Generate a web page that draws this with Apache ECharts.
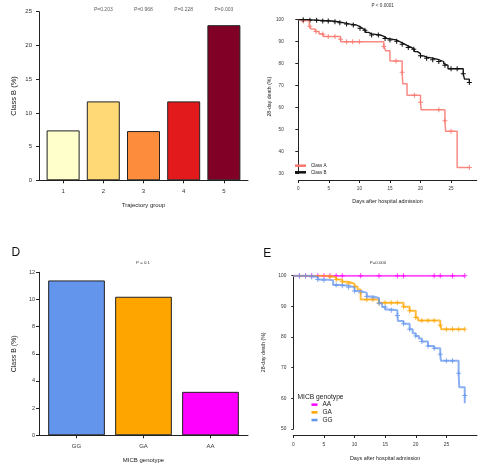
<!DOCTYPE html>
<html>
<head>
<meta charset="utf-8">
<script src="https://cdn.jsdelivr.net/npm/echarts@6/dist/echarts.min.js"></script>
<style>
  html, body { margin: 0; padding: 0; background: #fff; }
  #chart { width: 500px; height: 472px; }
</style>
</head>
<body>
<div id="chart"></div>
<script>
// panel A: class B share by trajectory group
var trajGroups = [1, 2, 3, 4, 5];
var trajClassB = [7.4, 11.7, 7.3, 11.7, 23.0];
var trajP = ['', 'P=0.203', 'P=0.968', 'P=0.228', 'P=0.003'];
var trajColors = ['#FFFFCC', '#FED976', '#FD8D3C', '#E31A1C', '#800026'];

// panel D: class B share by MICB genotype
var genotypes = ['GG', 'GA', 'AA'];
var genoClassB = [11.4, 10.2, 3.2];
var genoColors = ['#6495ED', '#FFA500', '#FF00FF'];

// panel B: survival by class  [day, %]
var classASteps = [[0,100],[0.8,99.4],[1.8,97.0],[2.1,95.8],[2.8,94.6],[3.4,93.5],[4.1,92.4],[6.9,91.1],[7,90.0],[14,87.8],[14.3,85.9],[15,81.2],[17,76.1],[17.1,70.9],[17.8,65.7],[20,62.5],[20.1,59.1],[24,54.1],[24.1,49.3],[26,32.8],[28,32.8]];
var classACens = [[0.8,99.4],[1.9,97.0],[2.9,94.6],[4,93.5],[4.9,92.4],[6,92.4],[6.9,91.1],[7.9,90],[8.9,90],[10,90],[14,87.8],[16,81.2],[17,76.1],[19,65.7],[20,62.5],[23,59.1],[24,54.1],[25,49.3],[28,32.8]];
var classBSteps = [[0,100],[1.5,99.7],[3.5,99.4],[5.5,99.1],[6.5,98.6],[7.5,98.0],[8.5,97.6],[9.5,97.0],[10,96.1],[10.5,95.2],[11,94.2],[11.5,93.6],[12,93.0],[13.5,92.4],[14,91.5],[14.5,90.8],[16,90.2],[16.5,89.5],[17,88.8],[17.5,88.0],[18,87.4],[18.5,86.6],[19,85.5],[19.5,84.6],[20,83.6],[20.5,83.0],[21,82.5],[22,81.8],[23,81.0],[23.8,80.0],[24,79.3],[24.5,77.7],[27,75.4],[27.2,73.0],[28,71.5]];
var classBCens = [[0.8,100],[1.9,99.7],[3,99.7],[4,99.4],[4.9,99.4],[6,99.1],[6.8,98.6],[7.9,98.0],[9,97.6],[10.1,96.1],[10.9,95.2],[12,93.0],[13.1,93.0],[14.2,91.5],[15,90.8],[16.1,90.2],[17,88.8],[18,87.4],[18.9,86.6],[20,83.6],[21,82.5],[22,81.8],[23,81.0],[24,79.3],[25,77.7],[26,77.7],[27,75.4],[28,71.5]];

// panel E: survival by genotype  [day, %]
var aaSteps = [[0,100],[28,100]];
var aaCens = [[1,100],[2,100],[3,100],[4,100],[5,100],[6,100],[7,100],[8,100],[11,100],[14,100],[17,100],[18,100],[23,100],[24,100],[26,100],[28,100]];
var gaSteps = [[0,100],[6,99.5],[7,98.8],[8,98.0],[9,97.4],[10,96.5],[10.5,95.5],[11,92.2],[14,91.2],[18,89.9],[19,88.6],[20,86.4],[20.4,85.4],[24,83.8],[24.2,82.5],[28,82.5]];
var gaCens = [[6,99.5],[7,98.8],[8,98.0],[9,97.4],[10,96.5],[12,92.2],[13,92.2],[14,91.2],[15,91.2],[16,91.2],[17,91.2],[18,89.9],[19,88.6],[20,86.4],[21,85.4],[22,85.4],[23,85.4],[24,83.8],[25,82.5],[26,82.5],[27,82.5],[28,82.5]];
var ggSteps = [[0,100],[3,99.6],[4,98.8],[5,98.5],[6.5,97.0],[8,96.7],[9,96.2],[10,95.0],[11,94.4],[12,93.2],[13,92.7],[14,91.0],[14.5,89.8],[15,89.0],[16,88.7],[17,87.0],[17.1,85.2],[18,84.3],[19,82.5],[19.5,81.2],[20,80.3],[20.5,79.5],[21,78.5],[22,77.1],[23,76.3],[24,74.4],[24.1,72.3],[27,68.2],[27.1,63.6],[28,60.9],[28,58.4]];
var ggCens = [[1,100],[2,100],[3,99.6],[4,98.8],[5,98.5],[7,97.0],[8,96.7],[9,96.2],[10,95.0],[11,94.4],[12,93.2],[13,92.7],[14,91.0],[15,89.8],[16,88.7],[17,87.0],[18,84.3],[19,82.5],[20,80.3],[21,78.5],[22,77.1],[23,76.3],[24,74.4],[25,72.3],[26,72.3],[27,68.2],[28,60.9]];

var dayTicks = [0, 5, 10, 15, 20, 25];

var FONT = 'Liberation Sans, Arial, sans-serif';
var AX = '#222', LBL = '#333';
var PLUS = 'path://M4,0h2v4h4v2h-4v4h-2v-4h-4v-2h4z';

function yAx(idx, min, max, step, name, opt) {
    return Object.assign({
        type: 'value', gridIndex: idx, min: min, max: max, interval: step,
        name: name, nameLocation: 'middle', nameGap: opt.gap,
        nameTextStyle: { fontSize: opt.nameSize, color: AX, fontFamily: FONT },
        axisLine: { show: true, lineStyle: { color: AX, width: 1 } },
        axisTick: { show: true, length: opt.tick, lineStyle: { color: AX } },
        axisLabel: { fontSize: opt.size, color: LBL, margin: opt.margin, fontFamily: FONT },
        splitLine: { show: false }
    }, opt.extra || {});
}

function xAx(idx, min, max, ticks, name, opt) {
    return Object.assign({
        type: 'value', gridIndex: idx, min: min, max: max,
        name: name, nameLocation: 'middle', nameGap: opt.gap,
        nameTextStyle: { fontSize: opt.nameSize, color: AX, fontFamily: FONT },
        axisLine: { show: true, lineStyle: { color: AX, width: 1 } },
        axisTick: { show: true, length: 3, customValues: ticks, lineStyle: { color: AX } },
        axisLabel: { fontSize: opt.size, color: LBL, margin: opt.margin, fontFamily: FONT,
            customValues: ticks, formatter: opt.fmt },
        splitLine: { show: false }
    }, opt.extra || {});
}

function stepLine(name, idx, data, color, width, alpha) {
    return { type: 'line', name: name, xAxisIndex: idx, yAxisIndex: idx, data: data,
        step: 'end', showSymbol: false, symbol: 'none', silent: true,
        itemStyle: { color: color },
        lineStyle: { color: color, width: width, opacity: alpha } };
}

function marks(idx, data, color, alpha) {
    return { type: 'scatter', xAxisIndex: idx, yAxisIndex: idx, data: data,
        symbol: PLUS, symbolSize: 5, silent: true,
        itemStyle: { color: color, opacity: alpha } };
}

var chart = echarts.init(document.getElementById('chart'));

var option = {
    backgroundColor: '#fff',
    animation: false,
    textStyle: { fontFamily: FONT },
    grid: [
        { left: 39, top: 11.7, width: 209, height: 168.6 },
        { left: 298.3, top: 19.7, width: 178.4, height: 154 },
        { left: 39, top: 272.3, width: 209, height: 163 },
        { left: 293.3, top: 275.7, width: 183.7, height: 153.3 }
    ],
    xAxis: [
        xAx(0, 0.4, 5.6, trajGroups, 'Trajectory group', { gap: 22, nameSize: 6, size: 6, margin: 8 }),
        xAx(1, 0, 29.2, dayTicks, 'Days after hospital admission', { gap: 19, nameSize: 5.4, size: 4.6, margin: 6.5,
            extra: { offset: 6.3 } }),
        xAx(2, 0.44, 3.56, [1, 2, 3], 'MICB genotype', { gap: 22, nameSize: 6, size: 6, margin: 8,
            fmt: function (v) { return genotypes[Math.round(v) - 1]; } }),
        xAx(3, 0, 30, dayTicks, 'Days after hospital admission', { gap: 21, nameSize: 5.4, size: 4.8, margin: 7,
            extra: { offset: 6 } })
    ],
    yAxis: [
        yAx(0, 0, 25, 5, 'Class B (%)', { gap: 21, nameSize: 7.5, size: 6, margin: 7, tick: 3 }),
        yAx(1, 30, 100, 10, '28-day death (%)', { gap: 18, nameSize: 5.2, size: 4.6, margin: 7, tick: 3,
            extra: { offset: 7.6 } }),
        yAx(2, 0, 12, 2, 'Class B (%)', { gap: 21.5, nameSize: 7, size: 5.5, margin: 4, tick: 3 }),
        yAx(3, 50, 100, 10, '28-day death (%)', { gap: 23, nameSize: 5.2, size: 4.8, margin: 3, tick: 2,
            extra: { offset: 4 } })
    ],
    legend: [
        { data: ['Class A', 'Class B'], orient: 'vertical', left: 295, top: 162.4, padding: 0,
          itemGap: 0, itemWidth: 11, itemHeight: 2.5, icon: 'rect', selectedMode: false,
          textStyle: { fontSize: 4.5, lineHeight: 6.6, color: AX, fontFamily: FONT } },
        { data: ['AA', 'GA', 'GG'], orient: 'vertical', left: 311.5, top: 400.8, padding: 0,
          itemGap: 0, itemWidth: 6, itemHeight: 2.5, icon: 'rect', selectedMode: false,
          textStyle: { fontSize: 6.5, lineHeight: 7.7, color: AX, fontFamily: FONT } }
    ],
    graphic: [
        { type: 'text', x: 382.7, y: 5.7, style: { text: 'P < 0.0001', fontSize: 4.6, fill: LBL, fontFamily: FONT, align: 'center', verticalAlign: 'middle' } },
        { type: 'text', x: 11.5, y: 253, style: { text: 'D', fontSize: 12, fill: '#111', fontFamily: FONT, align: 'left', verticalAlign: 'middle' } },
        { type: 'text', x: 143, y: 263, style: { text: 'P = 0.1', fontSize: 4.4, fill: LBL, fontFamily: FONT, align: 'center', verticalAlign: 'middle' } },
        { type: 'text', x: 263.3, y: 254, style: { text: 'E', fontSize: 12, fill: '#111', fontFamily: FONT, align: 'left', verticalAlign: 'middle' } },
        { type: 'text', x: 378, y: 263, style: { text: 'P=0.000', fontSize: 4.4, fill: LBL, fontFamily: FONT, align: 'center', verticalAlign: 'middle' } },
        { type: 'text', x: 297.5, y: 396.7, style: { text: 'MICB genotype', fontSize: 6.7, fill: AX, fontFamily: FONT, align: 'left', verticalAlign: 'middle' } }
    ],
    series: [
        // A
        { type: 'bar', xAxisIndex: 0, yAxisIndex: 0, barWidth: 33, silent: true,
          data: trajGroups.map(function (g, i) {
              return { value: [g, trajClassB[i]], itemStyle: { color: trajColors[i] } };
          }),
          itemStyle: { borderColor: '#222', borderWidth: 1 } },
        { type: 'scatter', xAxisIndex: 0, yAxisIndex: 0, symbolSize: 0, silent: true,
          data: trajGroups.slice(1).map(function (g) { return [g, 25]; }),
          label: { show: true, position: 'top', distance: 0, fontSize: 5, color: LBL, fontFamily: FONT,
                   formatter: function (p) { return trajP[p.value[0] - 1]; } } },
        // B
        stepLine('Class A', 1, classASteps, '#F8766D', 1.5, 0.85),
        marks(1, classACens, '#F8766D', 0.85),
        stepLine('Class B', 1, classBSteps, '#111111', 1.3, 1),
        marks(1, classBCens, '#111111', 1),
        // D
        { type: 'bar', xAxisIndex: 2, yAxisIndex: 2, barWidth: 56.7, silent: true,
          data: genotypes.map(function (g, i) {
              return { value: [i + 1, genoClassB[i]], itemStyle: { color: genoColors[i] } };
          }),
          itemStyle: { borderColor: '#222', borderWidth: 1 } },
        // E
        stepLine('AA', 3, aaSteps, '#FF00FF', 2, 0.7),
        marks(3, aaCens, '#FF00FF', 0.8),
        stepLine('GA', 3, gaSteps, '#FFA500', 2, 0.75),
        marks(3, gaCens, '#FFA500', 0.8),
        stepLine('GG', 3, ggSteps, '#6495ED', 2, 0.75),
        marks(3, ggCens, '#6495ED', 0.8)
    ]
};

chart.setOption(option);
</script>
</body>
</html>
